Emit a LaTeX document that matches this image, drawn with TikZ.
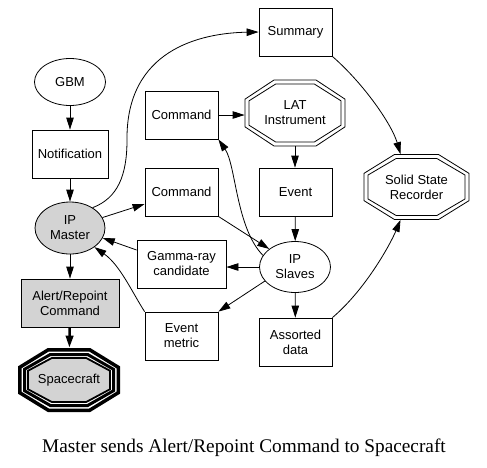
\documentclass[tikz,border=0pt]{standalone}
\usepackage{fontspec}
\setmainfont{Liberation Sans}
\newfontfamily\capfont{Liberation Serif}
\usetikzlibrary{shapes.geometric,arrows.meta,calc}
\definecolor{gfill}{HTML}{D3D3D3}
% #1 options, #2 cx, #3 cy, #4 width, #5 height
\newcommand\octo[5]{\draw[#1] ({#2-0.21*#4},{#3-#5/2}) -- ({#2+0.21*#4},{#3-#5/2}) -- ({#2+#4/2},{#3-0.21*#5}) -- ({#2+#4/2},{#3+0.21*#5}) -- ({#2+0.21*#4},{#3+#5/2}) -- ({#2-0.21*#4},{#3+#5/2}) -- ({#2-#4/2},{#3+0.21*#5}) -- ({#2-#4/2},{#3-0.21*#5}) -- cycle;}
\tikzset{
  lbl/.style={font=\fontsize{13}{15}\selectfont, align=center, inner sep=0pt},
  boxnode/.style={lbl, draw, rectangle, minimum width=73pt, minimum height=48pt},
  ellnode/.style={lbl, draw, ellipse, minimum width=71pt, minimum height=48pt},
  octnode/.style={lbl, rectangle},
  conn/.style={->},
}
\begin{document}
\begin{tikzpicture}[x=1pt,y=-1pt, line width=0.8pt, >={Triangle[length=12pt,width=7.5pt]}]
\useasboundingbox (0,0) rectangle (487,467);
% octagon outlines
\octo{}{295}{113}{100}{66}
\octo{}{295}{113}{92}{58}
\octo{}{416.5}{187}{105}{65}
\octo{}{416.5}{187}{97}{57}
\octo{line width=3.5pt}{69}{380}{98.5}{60.5}
\octo{line width=3pt}{69}{380}{89}{51}
\octo{line width=1.8pt, fill=gfill}{69}{380}{82}{44}
% nodes
\node[ellnode, minimum height=47pt] (gbm) at (70,82) {GBM};
\node[boxnode, minimum width=76pt] (notif) at (70,154) {Notification};
\node[ellnode, fill=gfill, minimum width=70pt, minimum height=52pt] (master) at (70,228) {IP\\Master};
\node[boxnode, fill=gfill, minimum width=98pt] (alert) at (70,303) {Alert/Repoint\\Command};
\node[octnode, minimum width=102pt, minimum height=64pt] (craft) at (69,380) {Spacecraft};
\node[boxnode] (cmd1) at (181.5,115) {Command};
\node[boxnode] (cmd2) at (181.5,192) {Command};
\node[boxnode, minimum width=89pt] (gamma) at (181.5,264) {Gamma-ray\\candidate};
\node[boxnode] (emetric) at (181.5,336) {Event\\metric};
\node[boxnode] (summary) at (295.5,32) {Summary};
\node[octnode, minimum width=100pt, minimum height=66pt] (lat) at (295,113) {LAT\\Instrument};
\node[boxnode] (event) at (295.5,192) {Event};
\node[ellnode, minimum width=71pt, minimum height=51pt] (slaves) at (295,267) {IP\\Slaves};
\node[boxnode] (assorted) at (295.5,342) {Assorted\\data};
\node[octnode, minimum width=105pt, minimum height=65pt] (ssr) at (416.5,187) {Solid State\\Recorder};
\node[anchor=base, inner sep=0pt, font=\capfont\fontsize{19.3}{22}\selectfont] (caption) at (244,452) {Master sends Alert/Repoint Command to Spacecraft};
% connectors
\draw[conn] (gbm) -- (notif);
\draw[conn] (notif) -- (master);
\draw[conn] (master) -- (alert);
\draw[conn, line width=2.5pt] (alert) -- (craft);
\draw[conn] (master.42) .. controls (118,198) and (127,175) .. (127,140) .. controls (126,50) and (200,33) .. (summary.west);
\draw[conn] (master) -- ([yshift=-12pt]cmd2.west);
\draw[conn] ([yshift=14pt]gamma.west) -- (master.-17);
\draw[conn] (emetric.north west) .. controls (132,292) and (120,265) .. (master.-38);
\draw[conn] (cmd1.east) -- (cmd1.east -| lat.west);
\draw[conn] (lat.south) -- (lat.south |- event.north);
\draw[conn] (event) -- (slaves);
\draw[conn] (slaves) -- (assorted);
\draw[conn] (cmd2.south east) -- (slaves.145);
\draw[conn] (slaves.160) .. controls (236,228) and (236,165) .. (cmd1.south east);
\draw[conn] (slaves.west) -- (slaves.west -| gamma.east);
\draw[conn] (slaves.205) -- (emetric.north east);
\draw[conn] (summary.south east) .. controls (365,85) and (392,125) .. ([xshift=-16pt]ssr.north);
\draw[conn] (assorted.north east) .. controls (365,290) and (390,245) .. ([xshift=-16pt]ssr.south);
\end{tikzpicture}
\end{document}
